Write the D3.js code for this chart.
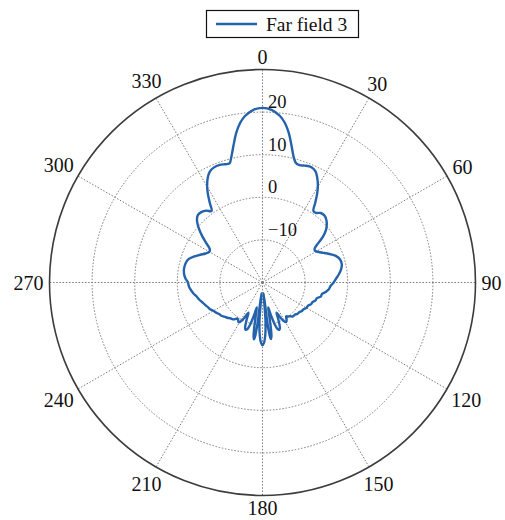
<!DOCTYPE html>
<html>
<head>
<meta charset="utf-8">
<script src="https://cdn.jsdelivr.net/npm/d3@7"></script>
<style>
  html, body { margin: 0; padding: 0; background: #fff; }
  svg { display: block; }
  text { font-family: "Liberation Serif", "DejaVu Serif", serif; fill: #111; }
</style>
</head>
<body>
<div id="chart"></div>
<script>
// Far-field gain pattern, angle in degrees (clockwise from 0 at top), gain in dB
const angles = [
  0, 3, 6, 8, 10, 12, 14, 15.5, 17.5, 20, 23, 25.5, 27.5, 29.5, 31.5, 33.5, 35.5, 37.5,
  40, 43, 45.5, 48, 50.5, 53, 55, 57, 59, 61.5, 64, 67, 70, 73.5, 77, 80.5, 84, 87,
  90, 93, 96, 98.5, 101, 103.5, 106, 109, 111.5, 114, 117, 120, 123, 126, 129, 132,
  135, 138, 141, 143, 145, 147, 149, 151, 153, 155, 157, 159, 160.5, 162, 163.5, 165.5,
  167, 168, 169.5, 170.5, 171.5, 172.2, 173, 174.2, 175.5, 177, 178.5, 180,
  181.5, 183, 184.5, 185.8, 187, 187.8, 188.5, 189.5, 190.5, 192, 193, 194.5, 196.5,
  198, 199.5, 201, 203, 205, 207, 209, 211, 213, 215, 217, 219, 222, 225, 228, 231,
  234, 237, 240, 243, 246, 249, 252, 255, 258, 261, 264, 267, 270, 273, 276, 280, 284,
  287.5, 291, 294, 297, 300, 302.5, 305, 307.5, 310, 313, 316, 319, 322, 324.5, 326.5,
  328.5, 330.5, 332.5, 334.5, 337, 340, 342.5, 344.5, 346, 348, 350, 352, 354, 357
];
const gains = [
  21.0, 20.6, 19.3, 17.8, 15.6, 12.8, 10.3, 9.2, 8.9, 9.2, 9.4, 8.9, 7.8, 6.4, 4.6, 2.4, 0.6, 0.6,
  1.3, 1.4, 1.0, 0.3, -0.7, -2.3, -4.2, -5.4, -5.6, -5.0, -4.1, -2.9, -1.7, -1.0, -0.9, -1.3, -2.0, -2.7,
  -3.3, -4.0, -4.4, -5.0, -5.8, -5.9, -6.7, -6.9, -7.4, -7.5, -8.0, -8.1, -8.5, -8.6, -8.9, -9.0,
  -9.3, -9.3, -9.8, -10.0, -10.3, -9.6, -9.2, -9.6, -10.8, -12.2, -10.4, -8.6, -8.2, -8.5, -9.6, -12.0,
  -14.0, -13.0, -9.5, -7.3, -6.6, -7.3, -10.0, -17.5, -11.0, -7.6, -5.9, -5.3,
  -5.9, -7.6, -11.0, -17.5, -10.0, -7.3, -6.5, -7.3, -9.5, -13.0, -14.0, -12.0, -9.6,
  -8.5, -8.2, -8.6, -10.4, -12.2, -10.8, -9.6, -9.1, -9.5, -9.7, -9.2, -8.9, -8.7, -8.3, -8.0, -7.6,
  -7.4, -7.0, -6.7, -6.2, -5.9, -5.5, -5.1, -4.6, -4.2, -3.6, -3.1, -2.7, -2.5, -1.9, -1.5, -1.3, -1.4,
  -1.8, -2.9, -4.0, -5.0, -5.6, -5.3, -3.9, -2.2, -0.6, 1.0, 1.9, 1.9, 1.4, 0.6, 2.4,
  4.6, 6.4, 7.8, 8.8, 9.3, 9.4, 9.1, 9.0, 10.3, 12.8, 15.6, 17.8, 19.3, 20.6
];

const angleTicks = [0, 30, 60, 90, 120, 150, 180, 210, 240, 270, 300, 330];
const gainTicks = [-10, 0, 10, 20];
const gainDomain = [-20, 30];
const seriesName = "Far field 3";

const width = 505, height = 520;
const cx = 262.5, cy = 282.5, outerR = 213;
const lineColor = "#2462ab";
const gridColor = "#7a7a7a";

const svg = d3.select("#chart").append("svg")
  .attr("width", width).attr("height", height);

const r = d3.scaleLinear().domain(gainDomain).range([0, outerR]);
const toRad = d => d * Math.PI / 180;

const g = svg.append("g").attr("transform", `translate(${cx},${cy})`);

// dotted grid: rings at each gain tick
g.selectAll("circle.ring").data(gainTicks).join("circle")
  .attr("class", "ring")
  .attr("r", d => r(d))
  .attr("fill", "none")
  .attr("stroke", gridColor)
  .attr("stroke-width", 1)
  .attr("stroke-dasharray", "1.5,1.7");

// dotted grid: spokes every 30 degrees
g.selectAll("line.spoke").data(angleTicks).join("line")
  .attr("class", "spoke")
  .attr("x1", 0).attr("y1", 0)
  .attr("x2", d => outerR * Math.sin(toRad(d)))
  .attr("y2", d => -outerR * Math.cos(toRad(d)))
  .attr("stroke", gridColor)
  .attr("stroke-width", 1)
  .attr("stroke-dasharray", "1.5,1.7");

// outer frame
g.append("circle")
  .attr("r", outerR)
  .attr("fill", "none")
  .attr("stroke", "#3c3c3c")
  .attr("stroke-width", 1.6);

// gain labels along the 0° spoke
g.selectAll("text.rlab").data(gainTicks).join("text")
  .attr("class", "rlab")
  .attr("x", 5.5)
  .attr("y", d => -r(d) - 4)
  .attr("font-size", 18.5)
  .text(d => d < 0 ? "\u2212" + Math.abs(d) : String(d));

// angle labels outside the frame
const alab = g.selectAll("text.alab").data(angleTicks).join("text")
  .attr("class", "alab")
  .attr("font-size", 20)
  .attr("text-anchor", "middle")
  .attr("dominant-baseline", "central")
  .text(d => String(d));
alab.each(function(d) {
  const w = this.getComputedTextLength();
  const h = 13;
  const s = Math.sin(toRad(d)), c = Math.cos(toRad(d));
  const rr = outerR + 6 + Math.abs(s) * w / 2 + Math.abs(c) * h / 2;
  d3.select(this).attr("x", rr * s).attr("y", -rr * c);
});

// pattern curve
const pts = angles.map((a, i) => ({ a, v: gains[i] }));
const radial = d3.lineRadial()
  .angle(d => toRad(d.a))
  .radius(d => r(d.v))
  .curve(d3.curveCatmullRomClosed.alpha(0.5));

g.append("path")
  .datum(pts)
  .attr("d", radial)
  .attr("fill", "none")
  .attr("stroke", lineColor)
  .attr("stroke-width", 2.4)
  .attr("stroke-linejoin", "round");

// legend
const lg = svg.append("g");
lg.append("rect")
  .attr("x", 206.5).attr("y", 10.5)
  .attr("width", 152).attr("height", 27)
  .attr("fill", "#fff").attr("stroke", "#111").attr("stroke-width", 1.2);
lg.append("line")
  .attr("x1", 216).attr("x2", 257)
  .attr("y1", 24).attr("y2", 24)
  .attr("stroke", lineColor).attr("stroke-width", 2.6);
lg.append("text")
  .attr("x", 266).attr("y", 31)
  .attr("font-size", 19.5)
  .text(seriesName);
</script>
</body>
</html>
